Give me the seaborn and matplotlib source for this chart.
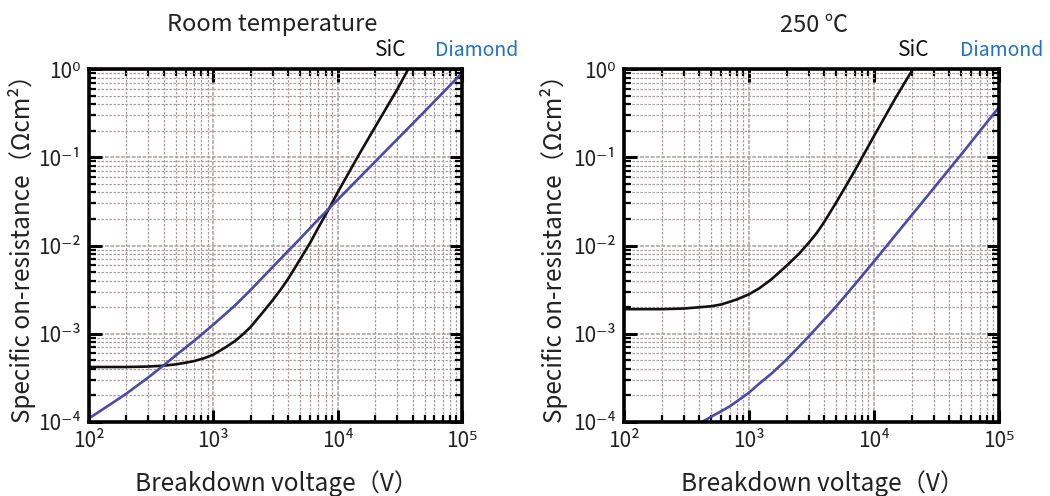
import numpy as np
import pandas as pd
import matplotlib
matplotlib.use("Agg")
import matplotlib.pyplot as plt
import seaborn as sns
from matplotlib.ticker import LogLocator, FixedLocator, FixedFormatter, NullFormatter

# ---------------- data ----------------
# Room temperature
rt_sic_v = [100, 200, 300, 400, 500, 600, 700, 850, 1000, 1250, 1500, 1750, 2000,
            2500, 3000, 3500, 4000, 5000, 6000, 7000, 8500, 10000, 15000, 20000,
            30000, 37000]
rt_sic_r = [4.2e-4, 4.2e-4, 4.25e-4, 4.35e-4, 4.5e-4, 4.7e-4, 4.9e-4, 5.3e-4,
            5.8e-4, 7.0e-4, 8.3e-4, 1.0e-3, 1.2e-3, 1.75e-3, 2.4e-3, 3.2e-3,
            4.2e-3, 7.0e-3, 1.07e-2, 1.6e-2, 2.6e-2, 4.0e-2, 0.11, 0.22, 0.58, 1.0]
rt_dia_v = [100, 150, 200, 300, 400, 500, 700, 1000, 1500, 2000, 3000, 5000,
            7000, 10000, 20000, 50000, 100000]
rt_dia_r = [1.1e-4, 1.6e-4, 2.1e-4, 3.2e-4, 4.4e-4, 5.7e-4, 8.3e-4, 1.27e-3,
            2.1e-3, 3.15e-3, 5.7e-3, 1.2e-2, 1.98e-2, 3.3e-2, 8.9e-2, 0.33, 0.9]

# 250 C
ht_sic_v = [100, 200, 300, 500, 600, 700, 800, 1000, 1200, 1500, 2000, 2500,
            3000, 3500, 4000, 5000, 6000, 7000, 8500, 10000, 15000, 20500]
ht_sic_r = [1.9e-3, 1.9e-3, 1.93e-3, 2.05e-3, 2.15e-3, 2.3e-3, 2.45e-3, 2.8e-3,
            3.25e-3, 4.1e-3, 5.9e-3, 8.0e-3, 1.07e-2, 1.4e-2, 1.85e-2, 3.1e-2,
            4.8e-2, 7.0e-2, 0.115, 0.174, 0.48, 1.0]
ht_dia_v = [420, 500, 700, 1000, 1200, 1500, 2000, 3000, 4000, 5000, 7000,
            10000, 20000, 50000, 100000]
ht_dia_r = [1.0e-4, 1.15e-4, 1.5e-4, 2.15e-4, 2.7e-4, 3.5e-4, 5.1e-4, 9.3e-4,
            1.45e-3, 2.05e-3, 3.6e-3, 6.6e-3, 2.2e-2, 0.108, 0.37]

panel_titles = ["Room temperature", "250 ℃"]
series_names = ["SiC", "Diamond"]
x_ticks = [1e2, 1e3, 1e4, 1e5]
x_tick_labels = ["10²", "10³", "10⁴", "10⁵"]
y_ticks = [1e-4, 1e-3, 1e-2, 1e-1, 1e0]
y_tick_labels = ["10⁻⁴", "10⁻³", "10⁻²", "10⁻¹", "10⁰"]
x_label = "Breakdown voltage（V）"
y_label = "Specific on-resistance（Ωcm²）"

# ---------------- styling ----------------
sns.set_style("white")
FAM = ["Noto Sans CJK JP", "DejaVu Sans"]
plt.rcParams["font.family"] = FAM
plt.rcParams["axes.unicode_minus"] = False

line_colors = {"SiC": "#111111", "Diamond": "#4b4aa6"}
label_colors = {"SiC": "#111111", "Diamond": "#1f72c4"}
grid_color = "#ab9e9e"
text_color = "#222222"

W, H = 1050, 496
fig = plt.figure(figsize=(W / 100, H / 100), dpi=100)
ax_l = fig.add_axes([89 / W, (H - 422) / H, 373 / W, 353 / H])
ax_r = fig.add_axes([624 / W, (H - 422) / H, 375 / W, 353 / H])


def px(x, y):
    return x / W, 1 - y / H


def make_df(sv, sr, dv, dr):
    return pd.concat([
        pd.DataFrame({"V": sv, "R": sr, "material": "SiC"}),
        pd.DataFrame({"V": dv, "R": dr, "material": "Diamond"}),
    ], ignore_index=True)


panels = [
    (ax_l, make_df(rt_sic_v, rt_sic_r, rt_dia_v, rt_dia_r), panel_titles[0],
     dict(title=(272, 25), sic=(391, 50), dia=(477, 50), xl=(277, 484), yl=(22, 243))),
    (ax_r, make_df(ht_sic_v, ht_sic_r, ht_dia_v, ht_dia_r), panel_titles[1],
     dict(title=(814, 25), sic=(914, 50), dia=(1002, 50), xl=(823, 484), yl=(554, 243))),
]

for ax, df, title, pos in panels:
    ax.set_xscale("log")
    ax.set_yscale("log")
    sns.lineplot(data=df, x="V", y="R", hue="material", palette=line_colors,
                 hue_order=series_names, ax=ax, legend=False, lw=1.9,
                 sort=True, estimator=None)
    ax.set_xlim(1e2, 1e5)
    ax.set_ylim(1e-4, 1e0)
    ax.set_xlabel("")
    ax.set_ylabel("")

    ax.xaxis.set_major_locator(FixedLocator(x_ticks))
    ax.xaxis.set_major_formatter(FixedFormatter(x_tick_labels))
    ax.yaxis.set_major_locator(FixedLocator(y_ticks))
    ax.yaxis.set_major_formatter(FixedFormatter(y_tick_labels))
    ax.xaxis.set_minor_locator(LogLocator(base=10, subs=np.arange(2, 10), numticks=20))
    ax.yaxis.set_minor_locator(LogLocator(base=10, subs=np.arange(2, 10), numticks=20))
    ax.xaxis.set_minor_formatter(NullFormatter())
    ax.yaxis.set_minor_formatter(NullFormatter())

    ax.grid(True, which="major", color=grid_color, lw=1.1, ls=(0, (2.5, 1)))
    ax.grid(True, which="minor", color=grid_color, lw=0.9, ls=(0, (2, 1.2)))
    ax.set_axisbelow(True)

    ax.tick_params(which="both", direction="in", top=True, right=True,
                   bottom=True, left=True, color="black")
    ax.tick_params(which="major", length=9, width=2.2, labelsize=15,
                   pad=6, labelcolor=text_color)
    ax.tick_params(which="minor", length=5, width=1.6)
    for sp in ax.spines.values():
        sp.set_visible(True)
        sp.set_color("black")
        sp.set_linewidth(2.6)

    fig.text(*px(*pos["title"]), title, ha="center", va="center",
             fontsize=17, color=text_color)
    fig.text(*px(*pos["sic"]), "SiC", ha="center", va="center",
             fontsize=15, color=label_colors["SiC"])
    fig.text(*px(*pos["dia"]), "Diamond", ha="center", va="center",
             fontsize=14, color=label_colors["Diamond"])
    fig.text(*px(*pos["xl"]), x_label, ha="center", va="center",
             fontsize=17.5, color=text_color)
    fig.text(*px(*pos["yl"]), y_label, ha="center", va="center",
             rotation=90, fontsize=17.5, color=text_color)

fig.savefig("out.png", dpi=100, facecolor="white")
